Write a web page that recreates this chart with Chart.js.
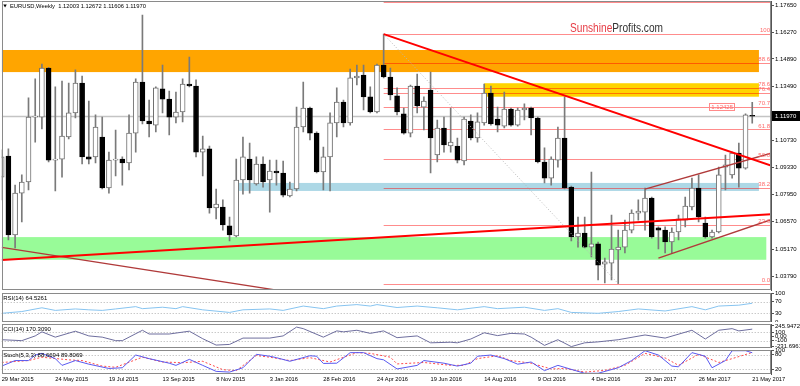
<!DOCTYPE html>
<html>
<head>
<meta charset="utf-8">
<script src="https://cdn.jsdelivr.net/npm/chart.js@4"></script>
<style>
  html, body { margin: 0; padding: 0; background: #fff; width: 800px; height: 386px; overflow: hidden; }
  canvas { position: absolute; left: 0; }
</style>
</head>
<body>
<canvas id="main" width="800" height="291" style="top:0"></canvas>
<canvas id="rsi" width="800" height="31" style="top:291px"></canvas>
<canvas id="cci" width="800" height="26" style="top:322px"></canvas>
<canvas id="stoch" width="800" height="38" style="top:348px"></canvas>
<script>
// weekly candles, 29 Mar 2015 .. 21 May 2017 (week index 0..112)
const opens  = [1.0885,1.0993,1.0589,1.0803,1.0860,1.1192,1.1192,1.1443,1.0972,1.0977,1.1090,1.1213,1.1366,1.0988,1.0988,1.1090,1.0829,1.0972,1.0977,1.0957,
                1.1110,1.1371,1.1172,1.1151,1.1336,1.1284,1.1192,1.1218,1.1361,1.1351,1.1013,1.1029,1.0727,1.0732,1.0635,1.0584,1.0870,1.0977,1.0850,1.0952,
                1.0870,1.0916,1.0906,1.0788,1.0824,1.1141,1.1238,1.1110,1.0911,1.0988,1.1162,1.1269,1.1162,1.1392,1.1407,1.1295,1.1218,1.1458,1.1397,1.1300,
                1.1208,1.1110,1.1351,1.1243,1.1330,1.0998,1.1136,1.1044,1.1044,1.0967,1.1172,1.1085,1.1162,1.1315,1.1182,1.1146,1.1233,1.1151,1.1228,1.1238,
                1.1187,1.0962,1.0880,1.0972,1.1085,1.0834,1.0579,1.0599,1.0527,1.0543,1.0440,1.0445,1.0512,1.0527,1.0614,1.0701,1.0706,1.0778,1.0625,1.0614,
                1.0553,1.0604,1.0665,1.0732,1.0829,1.0650,1.0579,1.0604,1.0936,1.0896,1.1008,1.0931,1.12003];
const highs  = [1.1024,1.1029,1.0844,1.0896,1.1290,1.1387,1.1463,1.1446,1.1346,1.1376,1.1366,1.1433,1.1402,1.1274,1.1203,1.1192,1.1013,1.1126,1.0988,1.1203,
                1.1387,1.1714,1.1279,1.1346,1.1458,1.1325,1.1320,1.1387,1.1499,1.1382,1.1095,1.1044,1.0824,1.0768,1.0681,1.0977,1.1090,1.1059,1.0988,1.0988,
                1.0972,1.0972,1.0967,1.0860,1.1243,1.1371,1.1243,1.1116,1.1039,1.1213,1.1341,1.1279,1.1438,1.1458,1.1458,1.1346,1.1463,1.1616,1.1443,1.1341,
                1.1238,1.1356,1.1412,1.1295,1.1422,1.1177,1.1192,1.1238,1.1085,1.1192,1.1203,1.1213,1.1361,1.1351,1.1243,1.1320,1.1238,1.1238,1.1259,1.1243,
                1.1192,1.1034,1.0988,1.1141,1.1295,1.0839,1.0681,1.0681,1.0911,1.0553,1.0471,1.0691,1.0614,1.0665,1.0717,1.0768,1.0829,1.0783,1.0630,1.0630,
                1.0625,1.0691,1.0783,1.0880,1.0896,1.0681,1.0614,1.0936,1.0998,1.1013,1.1059,1.1208,1.12672];
const lows   = [1.0768,1.0563,1.0522,1.0655,1.0819,1.1064,1.1131,1.0962,1.0814,1.0885,1.1080,1.1187,1.0952,1.0952,1.0957,1.0824,1.0803,1.0891,1.0844,1.0921,
                1.1013,1.1157,1.1090,1.1116,1.1213,1.1100,1.1162,1.1167,1.1346,1.0988,1.0891,1.0701,1.0671,1.0614,1.0558,1.0579,1.0798,1.0803,1.0844,1.0834,
                1.0706,1.0844,1.0783,1.0783,1.0814,1.1116,1.1075,1.0906,1.0819,1.0814,1.1090,1.1141,1.1151,1.1356,1.1228,1.1213,1.1213,1.1392,1.1279,1.1203,
                1.1105,1.1090,1.1213,1.1126,1.0906,1.0962,1.1013,1.1013,1.0957,1.0947,1.1075,1.1064,1.1151,1.1151,1.1116,1.1136,1.1146,1.1146,1.1177,1.1100,
                1.0957,1.0855,1.0844,1.0936,1.0824,1.0558,1.0527,1.0522,1.0476,1.0359,1.0343,1.0359,1.0340,1.0497,1.0599,1.0665,1.0614,1.0573,1.0517,1.0497,
                1.0497,1.0563,1.0630,1.0717,1.0655,1.0573,1.0573,1.0599,1.0819,1.0880,1.0834,1.0926,1.11606];
const closes = [1.0988,1.0589,1.0803,1.0860,1.1192,1.1197,1.1443,1.0972,1.0977,1.1095,1.1213,1.1366,1.0988,1.0977,1.1141,1.0829,1.0972,1.0977,1.0957,1.1110,
                1.1371,1.1172,1.1157,1.1341,1.1284,1.1192,1.1218,1.1361,1.1351,1.1013,1.1029,1.0727,1.0747,1.0640,1.0589,1.0870,1.0988,1.0870,1.0952,1.0860,
                1.0916,1.0906,1.0793,1.0824,1.1141,1.1238,1.1110,1.0911,1.0988,1.1162,1.1269,1.1162,1.1392,1.1402,1.1295,1.1218,1.1458,1.1397,1.1305,1.1218,
                1.1110,1.1351,1.1249,1.1274,1.1085,1.1136,1.1049,1.1064,1.0972,1.1182,1.1085,1.1167,1.1315,1.1157,1.1151,1.1233,1.1151,1.1228,1.1238,1.1187,
                1.0962,1.0880,1.0977,1.1085,1.0829,1.0579,1.0599,1.0527,1.0543,1.0435,1.0451,1.0517,1.0527,1.0614,1.0701,1.0711,1.0778,1.0579,1.0614,1.0553,
                1.0604,1.0671,1.0737,1.0829,1.0681,1.0579,1.0604,1.0896,1.0947,1.1008,1.0931,1.1203,1.11970];

const dateLabels = ['29 Mar 2015','24 May 2015','19 Jul 2015','13 Sep 2015','8 Nov 2015','3 Jan 2016','28 Feb 2016','24 Apr 2016',
                    '19 Jun 2016','14 Aug 2016','9 Oct 2016','4 Dec 2016','29 Jan 2017','26 Mar 2017','21 May 2017'];
const dateWeeks = [0,8,16,24,32,40,48,56,64,72,80,88,96,104,112];
const priceTicks = [1.0379,1.0517,1.0657,1.0795,1.0933,1.1073,1.1349,1.1489,1.1627,1.1765];
const lastPrice = 1.1197;

// zones: price top/bottom, week from/to
const zoneTop    = [1.1535, 1.1365, 1.0855, 1.0578];
const zoneBottom = [1.1422, 1.1296, 1.0814, 1.0462];
const zoneFrom   = [-1, 72.0, 35.3, -1];
const zoneTo     = [113.0, 113.0, 113.0, 114.1];
const zoneColors = ['#ffa500', '#ffd400', '#add8e6', '#98fb98'];

// fibonacci retracement
const fibLow = 1.0340, fibHigh = 1.1616, fibStartWeek = 57;
const fibLevels = [0, 23.6, 38.2, 50, 61.8, 70.7, 76.4, 78.6, 88.6, 100, 112.8];
const fibNames  = ['0.0','23.6','38.2','50.0','61.8','70.7','76.4','78.6','88.6','100',''];

// trend lines
const lineStartWeek  = [57, 0, 0, 96, 98, 57];
const lineStartPrice = [1.1616, 1.0461, 1.0525, 1.0824, 1.0470, 1.1616];
const lineEndWeek    = [114.8, 114.8, 50, 114.8, 114.8, 92];
const lineEndPrice   = [1.0944, 1.0695, 1.0259, 1.1007, 1.0667, 1.0340];
const lineStyles = [
  { color: '#ff0000', width: 2 },
  { color: '#ff0000', width: 2 },
  { color: '#b03a3a', width: 1.3 },
  { color: '#b03a3a', width: 1.3 },
  { color: '#b03a3a', width: 1.3 },
  { color: '#b8b8b8', width: 1, dash: [1, 2] }
];

// indicators
const rsiWeeks  = [0,3,6,8,11,13,15,17,20,21,24,26,27,30,34,36,40,42,45,48,50,53,55,56,59,62,65,68,72,74,78,81,83,85,89,92,95,99,103,105,107,110,112];
const rsiValues = [30,36,49,40,45,42,40,45,53,46,51,46,53,42,33,42,45,40,55,46,55,60,55,60,50,55,49,42,53,46,51,40,46,33,30,36,45,38,53,42,55,58,64.5];
const cciWeeks  = [0,3,5,6,8,11,13,15,17,18,21,22,25,28,30,32,34,36,40,42,44,45,48,50,51,53,55,57,59,62,64,67,68,70,72,74,76,78,79,81,83,85,87,89,92,96,99,103,105,107,109,110,112];
const cciValues = [-78,-100,11,107,-18,122,11,-18,-100,-100,144,56,56,122,-55,-204,-189,-40,-40,11,218,182,-18,129,107,144,71,129,-30,11,-151,-137,-151,-62,85,18,71,56,-18,-211,-78,-240,-151,-129,-78,33,-40,144,-62,144,182,129,170.3];
const stochWeeks = [0,2,4,5,6,8,9,11,13,16,18,20,22,25,26,28,30,32,34,36,38,40,41,43,46,47,48,50,52,54,56,57,59,62,63,66,68,70,71,73,75,77,79,81,83,86,87,89,92,94,96,98,100,101,103,105,106,108,109,111,112];
const stochK = [33,56,56,79,86,64,36,56,41,23,26,79,64,45,36,61,36,11,8,26,82,74,68,53,76,74,44,45,89,89,64,59,21,36,56,45,33,45,74,79,64,41,50,14,36,11,3,3,26,56,97,79,33,30,89,74,26,56,97,97,88.7];
const signalWeeks = [0,4,6,10,12,15,17,21,24,27,30,33,35,38,40,43,46,49,53,55,58,59,63,67,69,71,74,76,79,82,84,87,90,93,96,99,101,104,107,109,112];
const signalD = [48,56,70,59,56,33,28,70,50,47,53,18,14,77,70,56,68,50,89,86,70,42,48,36,36,64,76,56,45,21,23,8,15,36,86,67,36,82,48,64,89.8];

const cciTicks = [-231.6961, -100, 0, 100, 245.9472];
const cciTickText = ['-231.6961', '-100', '0.00', '100', '245.9472'];

Chart.defaults.font.family = '"Liberation Sans", Arial, sans-serif';
Chart.defaults.font.size = 6;
Chart.defaults.color = '#000';

const FONT = '"Liberation Sans", Arial, sans-serif';
const X_MAX = 114.8;

function xScale(show) {
  return {
    type: 'linear', min: 0, max: X_MAX, offset: false, display: show,
    grid: { display: false, drawTicks: false, tickLength: 0, offset: false },
    border: { display: false },
    afterBuildTicks: s => { s.ticks = dateWeeks.map(v => ({ value: v })); },
    ticks: {
      autoSkip: false, maxRotation: 0, align: 'start', padding: 2,
      font: { size: 5.7 }, color: '#000',
      callback: (v, i) => dateLabels[i]
    },
    afterFit: s => { s.paddingLeft = 0; s.paddingRight = 0; if (show) s.height = 12; }
  };
}

function yScale(min, max, ticks, fmt) {
  return {
    type: 'linear', position: 'right', min: min, max: max,
    afterBuildTicks: s => { s.ticks = ticks.map(v => ({ value: v })); },
    ticks: { autoSkip: false, padding: 1, color: '#000', font: { size: 6 }, callback: fmt },
    grid: { drawOnChartArea: false, tickLength: 3, color: '#555' },
    border: { color: '#555' },
    afterFit: s => { s.width = 29; s.paddingTop = 0; s.paddingBottom = 0; }
  };
}

function frame(chart) {
  const { ctx, chartArea: a } = chart;
  ctx.save();
  ctx.strokeStyle = '#8a8a8a';
  ctx.lineWidth = 1;
  ctx.strokeRect(Math.round(a.left) + 0.5, Math.round(a.top) + 0.5,
                 Math.round(a.right - a.left) - 1, Math.round(a.bottom - a.top) - 1);
  ctx.restore();
}

// main chart decorations
const mainDecor = {
  id: 'mainDecor',
  beforeDatasetsDraw(chart) {
    const { ctx, chartArea: a, scales: { x, y } } = chart;
    ctx.save();
    ctx.beginPath();
    ctx.rect(a.left, a.top, a.right - a.left, a.bottom - a.top);
    ctx.clip();
    zoneTop.forEach((t, k) => {
      const x1 = Math.max(x.getPixelForValue(zoneFrom[k]), a.left);
      const x2 = x.getPixelForValue(zoneTo[k]);
      const y1 = y.getPixelForValue(t), y2 = y.getPixelForValue(zoneBottom[k]);
      ctx.fillStyle = zoneColors[k];
      ctx.fillRect(x1, y1, x2 - x1, y2 - y1);
    });
    // bid line
    const py = Math.round(y.getPixelForValue(lastPrice)) + 0.5;
    ctx.strokeStyle = '#c4c4c4';
    ctx.lineWidth = 1.5;
    ctx.beginPath(); ctx.moveTo(a.left, py); ctx.lineTo(a.right, py); ctx.stroke();
    // fib levels
    const fx = x.getPixelForValue(fibStartWeek);
    ctx.strokeStyle = 'rgba(255,0,0,0.45)';
    ctx.lineWidth = 1;
    fibLevels.forEach(l => {
      const ly = Math.round(y.getPixelForValue(fibLow + (fibHigh - fibLow) * l / 100)) + 0.5;
      ctx.beginPath(); ctx.moveTo(fx, ly); ctx.lineTo(a.right, ly); ctx.stroke();
    });
    ctx.restore();
  },
  afterDatasetsDraw(chart) {
    const { ctx, chartArea: a, scales: { x, y } } = chart;
    ctx.save();
    // fib labels
    ctx.font = '6px ' + FONT;
    ctx.fillStyle = '#ff6a6a';
    ctx.textAlign = 'right';
    ctx.textBaseline = 'bottom';
    fibLevels.forEach((l, k) => {
      if (!fibNames[k]) return;
      const ly = y.getPixelForValue(fibLow + (fibHigh - fibLow) * l / 100);
      ctx.fillText(fibNames[k], a.right - 1, ly - 0.5);
    });
    // 1.12425 price label
    const ly = y.getPixelForValue(1.12425);
    const lx = x.getPixelForValue(105.6);
    ctx.textAlign = 'left';
    ctx.textBaseline = 'middle';
    const tw = ctx.measureText('1.12425').width;
    ctx.strokeStyle = '#ff8a8a';
    ctx.lineWidth = 1;
    ctx.strokeRect(Math.round(lx) + 0.5, Math.round(ly - 4) + 0.5, Math.round(tw + 3), 7);
    ctx.fillStyle = '#ff6a6a';
    ctx.fillText('1.12425', lx + 2, ly + 0.5);
    ctx.beginPath(); ctx.moveTo(lx + tw + 4, Math.round(ly) + 0.5); ctx.lineTo(lx + tw + 11, Math.round(ly) + 0.5); ctx.stroke();
    // watermark
    ctx.font = '12px ' + FONT;
    ctx.textBaseline = 'alphabetic';
    const w1 = ctx.measureText('Sunshine').width, w2 = ctx.measureText('Profits.com').width;
    ctx.save();
    ctx.translate(570, 31.5);
    ctx.scale(93 / (w1 + w2), 1);
    ctx.fillStyle = '#e63c45'; ctx.fillText('Sunshine', 0, 0);
    ctx.fillStyle = '#333'; ctx.fillText('Profits.com', w1, 0);
    ctx.restore();
    // title
    ctx.fillStyle = '#000';
    ctx.beginPath(); ctx.moveTo(3.3, 4.6); ctx.lineTo(6.8, 4.6); ctx.lineTo(5.05, 7.4); ctx.closePath(); ctx.fill();
    ctx.font = '5.8px ' + FONT;
    ctx.textBaseline = 'middle';
    ctx.fillText('EURUSD,Weekly  1.12003 1.12672 1.11606 1.11970', 10, 6.3);
    ctx.restore();
  },
  afterDraw(chart) {
    frame(chart);
    const { ctx, chartArea: a, scales: { y } } = chart;
    const py = y.getPixelForValue(lastPrice);
    ctx.save();
    ctx.fillStyle = '#000';
    ctx.fillRect(a.right + 1, Math.round(py) - 5, 800 - a.right - 1, 10);
    ctx.fillStyle = '#fff';
    ctx.font = '6px ' + FONT;
    ctx.textBaseline = 'middle';
    ctx.fillText(lastPrice.toFixed(5), a.right + 4, py + 0.5);
    ctx.restore();
  }
};

const up = opens.map((o, i) => closes[i] >= o);
const trendSets = lineStartWeek.map((w, k) => ({
  type: 'line',
  data: [{ x: w, y: lineStartPrice[k] }, { x: lineEndWeek[k], y: lineEndPrice[k] }],
  borderColor: lineStyles[k].color,
  borderWidth: lineStyles[k].width,
  borderDash: lineStyles[k].dash || [],
  pointRadius: 0, fill: false, order: 0
}));

new Chart(document.getElementById('main'), {
  type: 'bar',
  data: {
    datasets: [
      ...trendSets,
      {
        type: 'bar',
        data: opens.map((o, i) => ({ x: i, y: [o, closes[i]] })),
        backgroundColor: up.map(u => u ? '#ffffff' : '#000000'),
        borderColor: up.map(u => u ? '#707070' : '#000000'),
        borderWidth: 1, borderSkipped: false,
        barThickness: 5, grouped: false, order: 1
      },
      {
        type: 'bar',
        data: highs.map((h, i) => ({ x: i, y: [lows[i], h] })),
        backgroundColor: '#7a7a7a', borderWidth: 0,
        barThickness: 1, grouped: false, order: 2
      }
    ]
  },
  options: {
    responsive: false, animation: false, events: [],
    layout: { padding: { left: 1.7, top: 1, right: 0, bottom: 1 } },
    plugins: { legend: { display: false }, tooltip: { enabled: false } },
    scales: {
      x: xScale(false),
      y: yScale(1.03074, 1.17856, priceTicks, v => v.toFixed(5))
    }
  },
  plugins: [mainDecor]
});

function panelDecor(title, levels) {
  return {
    id: 'panelDecor',
    beforeDatasetsDraw(chart) {
      const { ctx, chartArea: a, scales: { y } } = chart;
      ctx.save();
      ctx.strokeStyle = '#b0b0b0';
      ctx.lineWidth = 1;
      ctx.setLineDash([1, 2]);
      levels.forEach(v => {
        const py = Math.round(y.getPixelForValue(v)) + 0.5;
        ctx.beginPath(); ctx.moveTo(a.left, py); ctx.lineTo(a.right, py); ctx.stroke();
      });
      ctx.restore();
    },
    afterDraw(chart) {
      frame(chart);
      const { ctx, chartArea: a } = chart;
      ctx.save();
      ctx.font = '6px ' + FONT;
      ctx.fillStyle = '#000';
      ctx.textBaseline = 'top';
      ctx.fillText(title, a.left + 1.5, a.top + 2.5);
      ctx.restore();
    }
  };
}

function pts(ws, vs) { return ws.map((w, k) => ({ x: w, y: vs[k] })); }

function panel(id, sets, yMin, yMax, ticks, fmt, title, levels, showX, pad) {
  new Chart(document.getElementById(id), {
    type: 'line',
    data: { datasets: sets.map(s => Object.assign({ pointRadius: 0, fill: false, borderWidth: 1, tension: 0 }, s)) },
    options: {
      responsive: false, animation: false, events: [],
      layout: { padding: pad },
      plugins: { legend: { display: false }, tooltip: { enabled: false } },
      scales: { x: xScale(showX), y: yScale(yMin, yMax, ticks, fmt) }
    },
    plugins: [panelDecor(title, levels)]
  });
}

panel('rsi', [{ data: pts(rsiWeeks, rsiValues), borderColor: '#87c4f0' }],
      0, 100, [0, 30, 70, 100], v => String(v), 'RSI(14) 64.5261', [30, 70], false,
      { left: 1.7, top: 2, right: 0, bottom: 0 });

panel('cci', [{ data: pts(cciWeeks, cciValues), borderColor: '#6e6e9e' }],
      -261, 291, cciTicks, (v, i) => cciTickText[i], 'CCI(14) 170.3090', [100, -100], false,
      { left: 1.7, top: 2, right: 0, bottom: 0.5 });

panel('stoch', [
        { data: pts(stochWeeks, stochK), borderColor: '#5a5af0' },
        { data: pts(signalWeeks, signalD), borderColor: '#ff4a4a', borderDash: [2, 2] }
      ],
      0, 100, [20, 80, 100], v => String(v), 'Stoch(5,3,3) 88.6694 89.8069', [20, 80], true,
      { left: 1.7, top: 2, right: 0, bottom: 0 });
</script>
</body>
</html>
